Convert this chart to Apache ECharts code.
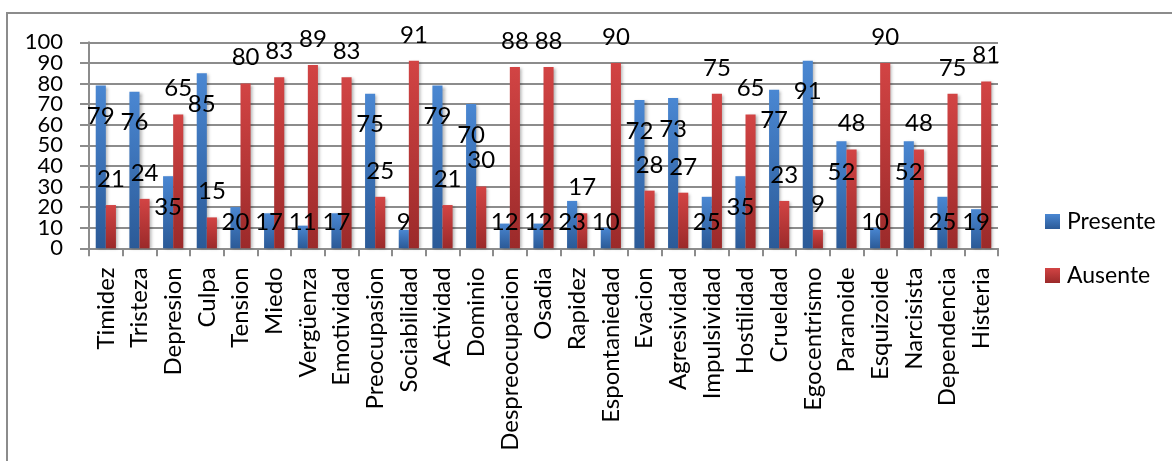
<!DOCTYPE html>
<html>
<head>
<meta charset="utf-8">
<script src="https://cdn.jsdelivr.net/npm/echarts@6/dist/echarts.min.js"></script>
<style>
html,body{margin:0;padding:0;background:#fff;}
#c{width:1172px;height:461px;}
</style>
</head>
<body>
<div id="c"></div>
<script>
var categories = ['Timidez','Tristeza','Depresion','Culpa','Tension','Miedo','Vergüenza','Emotividad','Preocupasion','Sociabilidad','Actividad','Dominio','Despreocupacion','Osadia','Rapidez','Espontaniedad','Evacion','Agresividad','Impulsividad','Hostilidad','Crueldad','Egocentrismo','Paranoide','Esquizoide','Narcisista','Dependencia','Histeria'];
var presente = [79,76,35,85,20,17,11,17,75,9,79,70,12,12,23,10,72,73,25,35,77,91,52,10,52,25,19];
var ausente  = [21,24,65,15,80,83,89,83,25,91,21,30,88,88,17,90,28,27,75,65,23,9,48,90,48,75,81];
var yTicks = [0,10,20,30,40,50,60,70,80,90,100];

var FONT = 'Lato';
var chart = echarts.init(document.getElementById('c'), null, {renderer:'canvas'});

function grad(top, bottom){
  return new echarts.graphic.LinearGradient(0,0,0,1,[{offset:0,color:top},{offset:1,color:bottom}]);
}
var blue = grad('#4a87d2','#2b5a97');
var red = grad('#d24444','#9b2a2a');

var series = [
  {name:'Presente', type:'bar', data:presente, itemStyle:{color:blue, shadowColor:'rgba(0,0,0,0.3)', shadowBlur:3, shadowOffsetX:2, shadowOffsetY:1}},
  {name:'Ausente', type:'bar', data:ausente, itemStyle:{color:red, shadowColor:'rgba(0,0,0,0.3)', shadowBlur:3, shadowOffsetX:2, shadowOffsetY:1}}
];
series.forEach(function(s){
  s.barGap = '0%';
  s.barCategoryGap = '40%';
  s.label = {show:true, position:'inside', color:'#000', fontFamily:FONT, fontSize:24, align:'center', verticalAlign:'middle'};
  s.emphasis = {disabled:true};
});

var border = {id:'border', type:'rect', shape:{x:7,y:13,width:1300,height:600}, style:{fill:'none', stroke:'#8c8c8c', lineWidth:2}, z:-10};

var option = {
  animation:false,
  backgroundColor:'#fff',
  textStyle:{fontFamily:FONT},
  graphic:[border],
  legend:{
    orient:'vertical', left:1040, top:205, itemWidth:15, itemHeight:15, itemGap:31,
    icon:'rect',
    textStyle:{fontFamily:FONT, fontSize:23, color:'#000', padding:[0,0,0,2]},
    data:['Presente','Ausente']
  },
  grid:{left:89, right:174, top:42.3, bottom:212.7, containLabel:false},
  xAxis:{
    type:'category', data:categories,
    axisLine:{lineStyle:{color:'#8c8c8c', width:2}},
    axisTick:{show:true, length:8, lineStyle:{color:'#8c8c8c', width:2}},
    axisLabel:{rotate:90, margin:19, fontFamily:FONT, fontSize:24, lineHeight:18, color:'#000', interval:0}
  },
  yAxis:{
    type:'value', min:yTicks[0], max:yTicks[yTicks.length-1], interval:10,
    axisLine:{show:true, lineStyle:{color:'#8c8c8c', width:2}},
    axisTick:{show:true, length:9, lineStyle:{color:'#8c8c8c', width:2}},
    splitLine:{lineStyle:{color:'#8c8c8c', width:2}},
    axisLabel:{show:false}
  },
  series:series,
  labelLayout:function(p){
    var v = (p.seriesIndex===0 ? presente : ausente)[p.dataIndex];
    var r = p.rect;
    var top = Math.min(r.y, r.y + r.height);
    var bottom = Math.max(r.y, r.y + r.height);
    var h = bottom - top;
    if (!v || !h) return {};
    var ppu = h / v;
    var target = p.seriesIndex===0 ? Math.max(v - 15, 12.6) : v + 12.5;
    return {x: r.x + r.width/2, y: bottom - target*ppu, align:'center', verticalAlign:'middle'};
  }
};
chart.setOption(option);

// y-axis tick labels placed through the axis scale
var axisX = chart.convertToPixel({gridIndex:0}, [ -0.5, 0 ])[0];
var texts = yTicks.map(function(t, i){
  var py = chart.convertToPixel({yAxisIndex:0}, t);
  return {id:'yl'+i, type:'text', x: 63, y: py,
    style:{text:String(t), fill:'#000', font:'22px ' + FONT, textAlign:'right', textVerticalAlign:'middle'}};
});
chart.setOption({graphic:[border].concat(texts)});
</script>
</body>
</html>
